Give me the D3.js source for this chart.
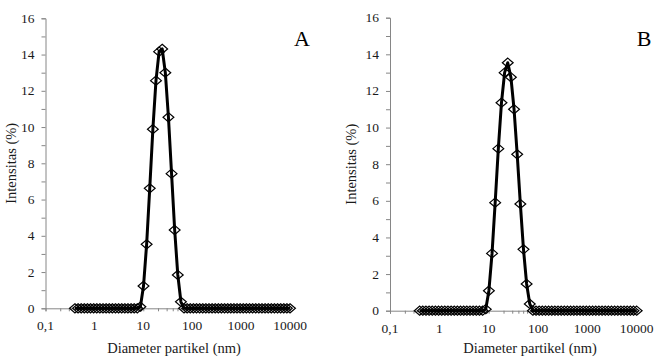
<!DOCTYPE html>
<html>
<head>
<meta charset="utf-8">
<script src="https://cdn.jsdelivr.net/npm/d3@7"></script>
<style>
  body { margin: 0; background: #fff; }
  svg { display: block; }
  text { font-family: "Liberation Serif", "Times New Roman", serif; }
</style>
</head>
<body>
<svg id="chart" width="655" height="359"></svg>
<script>
// particle size bins (nm)
const sizes = [
  0.4, 0.4632, 0.5365, 0.6213, 0.7195, 0.8332, 0.9649, 1.117, 1.294, 1.499,
  1.736, 2.01, 2.328, 2.696, 3.122, 3.615, 4.187, 4.849, 5.615, 6.503,
  7.531, 8.721, 10.1, 11.7, 13.54, 15.69, 18.17, 21.04, 24.36, 28.21,
  32.67, 37.84, 43.82, 50.75, 58.77, 68.06, 78.82, 91.28, 105.7, 122.4,
  141.8, 164.2, 190.1, 220.2, 255, 295.3, 342, 396.1, 458.7, 531.2,
  615.1, 712.4, 825, 955.4, 1106, 1281, 1484, 1718, 1990, 2305,
  2669, 3091, 3580, 4145, 4801, 5560, 6439, 7456, 8635, 10000
];

const intensityA = [
  0, 0, 0, 0, 0, 0, 0, 0, 0, 0,
  0, 0, 0, 0, 0, 0, 0, 0, 0, 0,
  0, 0.09, 1.23, 3.53, 6.62, 9.88, 12.56, 14.16, 14.31, 13.0,
  10.54, 7.43, 4.32, 1.84, 0.36, 0, 0, 0, 0, 0,
  0, 0, 0, 0, 0, 0, 0, 0, 0, 0,
  0, 0, 0, 0, 0, 0, 0, 0, 0, 0,
  0, 0, 0, 0, 0, 0, 0, 0, 0, 0
];

const intensityB = [
  0, 0, 0, 0, 0, 0, 0, 0, 0, 0,
  0, 0, 0, 0, 0, 0, 0, 0, 0, 0,
  0, 0.08, 1.09, 3.13, 5.9, 8.85, 11.36, 13.0, 13.54, 12.75,
  11.0, 8.54, 5.83, 3.35, 1.46, 0.37, 0, 0, 0, 0,
  0, 0, 0, 0, 0, 0, 0, 0, 0, 0,
  0, 0, 0, 0, 0, 0, 0, 0, 0, 0,
  0, 0, 0, 0, 0, 0, 0, 0, 0, 0
];

const xTicks = [0.1, 1, 10, 100, 1000, 10000];
const yTicks = [0, 2, 4, 6, 8, 10, 12, 14, 16];

const svg = d3.select('#chart');
const axisColor = '#868686';
const textColor = '#1a1a1a';

function drawPanel(values, box, letter) {
  const x = d3.scaleLog().domain([0.1, 10000]).range([box.left, box.right]);
  const y = d3.scaleLinear().domain([0, 16]).range([box.bottom, box.top]);
  const g = svg.append('g');

  // y axis, a tick at every unit
  const yAxis = g.append('g')
    .attr('transform', `translate(${box.left},0)`)
    .call(d3.axisLeft(y).tickValues(d3.range(0, 17, 1)).tickSize(4).tickFormat(''));
  yAxis.select('.domain').attr('stroke', axisColor);
  yAxis.selectAll('.tick line').attr('stroke', axisColor);

  g.selectAll('.ylab').data(yTicks).enter()
    .append('text')
    .attr('x', box.left - 11)
    .attr('y', (d) => y(d) + 4.5)
    .attr('text-anchor', 'end')
    .attr('font-size', 13.5)
    .attr('fill', textColor)
    .text((d) => d);

  // x axis with minor log ticks
  const minor = [];
  for (let e = -1; e < 4; e++) {
    for (let k = 1; k < 10; k++) minor.push(k * Math.pow(10, e));
  }
  minor.push(10000);
  const xAxis = g.append('g')
    .attr('transform', `translate(0,${box.bottom})`)
    .call(d3.axisBottom(x).tickValues(minor).tickSize(3).tickFormat(''));
  xAxis.select('.domain').attr('stroke', axisColor);
  xAxis.selectAll('.tick line').attr('stroke', axisColor);

  g.selectAll('.xlab').data(xTicks).enter()
    .append('text')
    .attr('x', (d) => x(d))
    .attr('y', box.bottom + 22)
    .attr('text-anchor', 'middle')
    .attr('font-size', 13.5)
    .attr('fill', textColor)
    .text((d) => String(d).replace('.', ','));

  // titles
  g.append('text')
    .attr('x', box.xTitleX)
    .attr('y', 353)
    .attr('text-anchor', 'middle')
    .attr('font-size', 14.5)
    .attr('fill', textColor)
    .text('Diameter partikel (nm)');

  g.append('text')
    .attr('transform', `translate(${box.yTitleX},${(box.top + box.bottom) / 2}) rotate(-90)`)
    .attr('text-anchor', 'middle')
    .attr('font-size', 14.5)
    .attr('fill', textColor)
    .text('Intensitas (%)');

  g.append('text')
    .attr('x', box.letterX)
    .attr('y', 46)
    .attr('text-anchor', 'middle')
    .attr('font-size', 22)
    .attr('fill', '#000')
    .text(letter);

  // series
  const pts = sizes.map((s, i) => ({ s, v: values[i] }));
  const line = d3.line().x((d) => x(d.s)).y((d) => y(d.v));

  g.append('path')
    .datum(pts)
    .attr('fill', 'none')
    .attr('stroke', '#000')
    .attr('stroke-width', 3)
    .attr('stroke-linejoin', 'round')
    .attr('d', line);

  g.selectAll('.marker').data(pts).enter()
    .append('path')
    .attr('class', 'marker')
    .attr('d', 'M0,-4.6L5.4,0L0,4.6L-5.4,0Z')
    .attr('transform', (d) => `translate(${x(d.s)},${y(d.v)})`)
    .attr('fill', 'none')
    .attr('stroke', '#000')
    .attr('stroke-width', 1.2);
}

drawPanel(intensityA,
  { left: 45.5, right: 290, top: 18.3, bottom: 308.3, xTitleX: 174, yTitleX: 16, letterX: 302 },
  'A');
drawPanel(intensityB,
  { left: 390, right: 636.7, top: 17.7, bottom: 310.7, xTitleX: 530, yTitleX: 356, letterX: 644 },
  'B');
</script>
</body>
</html>
